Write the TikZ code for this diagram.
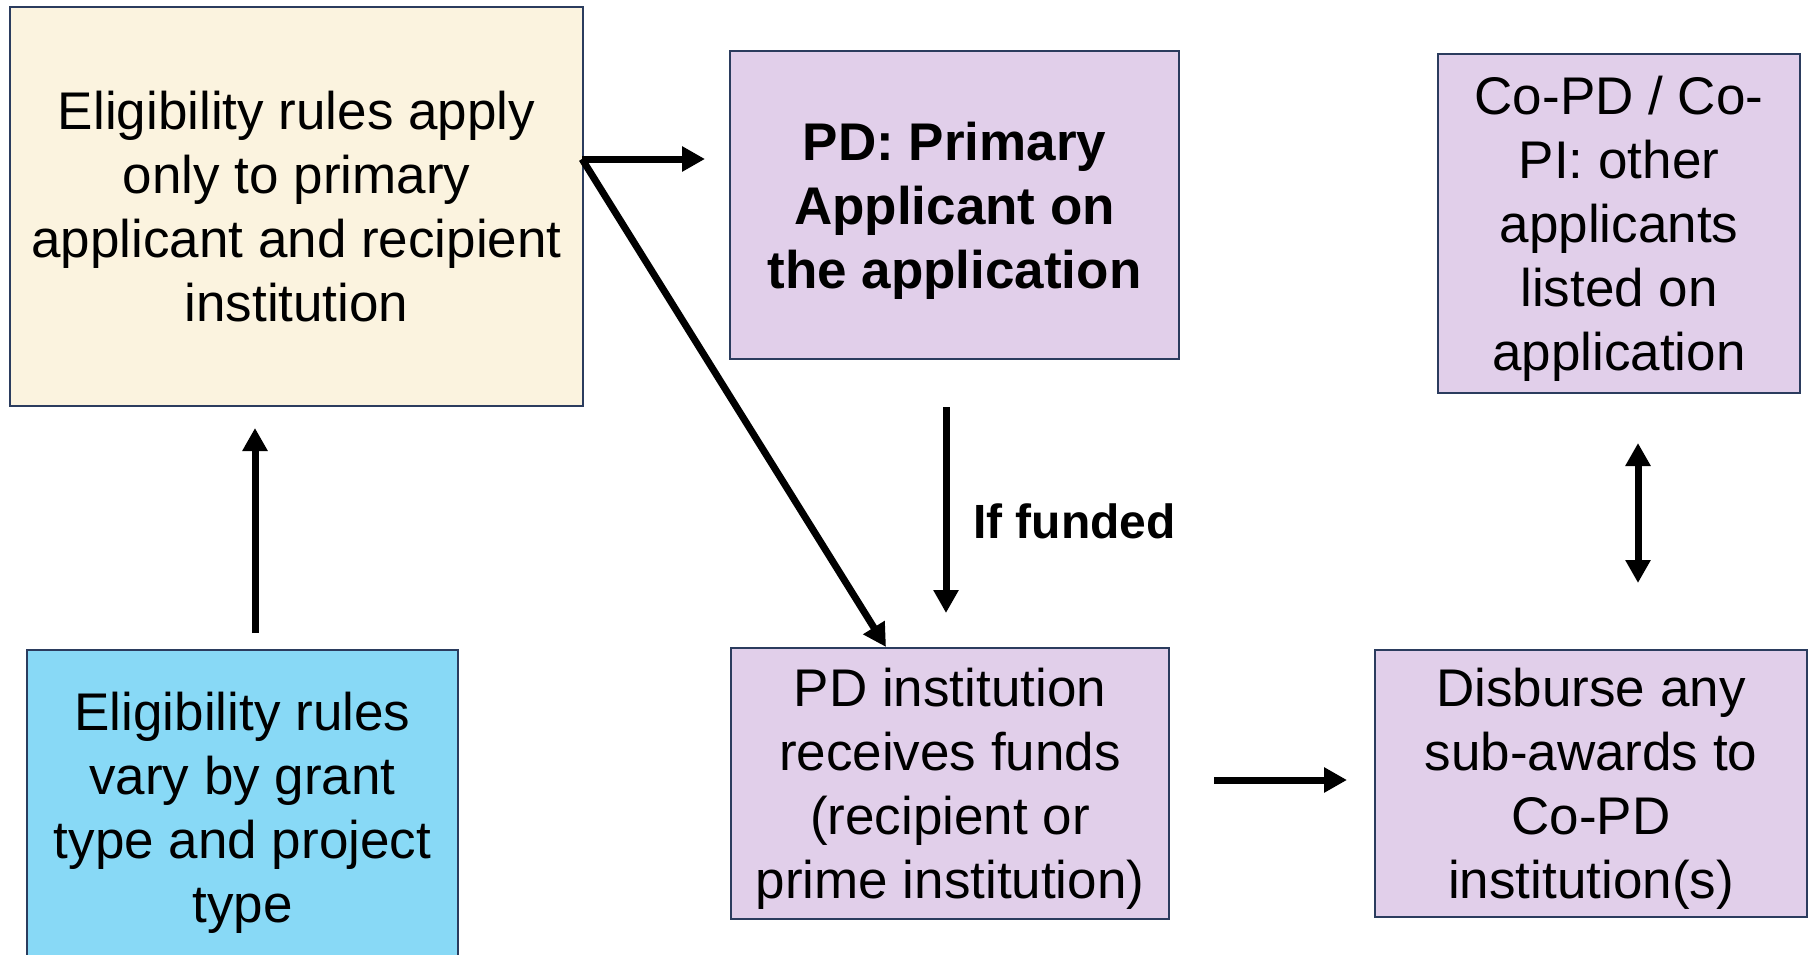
\documentclass[tikz,border=0pt]{standalone}
\usepackage{fontspec}
\setmainfont{Liberation Sans}
\usetikzlibrary{arrows.meta,calc}
\definecolor{boxline}{HTML}{2B3C5E}
\definecolor{yelfill}{HTML}{FBF3DF}
\definecolor{purfill}{HTML}{E1CFEA}
\definecolor{bluefill}{HTML}{88D9F6}
\tikzset{
  box/.style={draw=boxline, line width=2pt, inner sep=0pt, anchor=north west,
    align=center, text depth=0pt, font=\fontsize{53}{64}\selectfont},
  arr/.style={line width=7pt, -{Triangle[width=24pt,length=23pt]}},
  darr/.style={line width=7pt, {Triangle[width=24pt,length=23pt]}-{Triangle[width=24pt,length=23pt]}}
}
\begin{document}
\begin{tikzpicture}[x=1pt,y=-1pt]
\useasboundingbox (0,0) rectangle (1820,955);
\node[box, fill=yelfill, minimum width=573pt, minimum height=399pt] (A) at (9,6)
  {Eligibility rules apply\\only to primary\\applicant and recipient\\institution};
\node[box, fill=purfill, minimum width=449pt, minimum height=308pt, font=\fontsize{53}{64}\selectfont\bfseries] (B) at (729,50)
  {PD: Primary\\Applicant on\\the application};
\node[box, fill=purfill, minimum width=362pt, minimum height=339pt] (C) at (1437,53)
  {Co-PD / Co-\\PI: other\\applicants\\listed on\\application};
\node[box, fill=bluefill, minimum width=431pt, minimum height=314pt] (D) at (26,649)
  {Eligibility rules\\vary by grant\\type and project\\type};
\node[box, fill=purfill, minimum width=438pt, minimum height=271pt] (E) at (730,647)
  {PD institution\\receives funds\\(recipient or\\prime institution)};
\node[box, fill=purfill, minimum width=432pt, minimum height=267pt] (F) at (1374,649)
  {Disburse any\\sub-awards to\\Co-PD\\institution(s)};
\node[anchor=west, inner sep=0pt, font=\fontsize{48}{56}\selectfont\bfseries] (lbl) at (973,521) {If funded};
\coordinate (p1) at (582,159);
\coordinate (xBE) at (946,0);
\coordinate (xDA) at (255,0);
\coordinate (yEF) at (0,780);
\coordinate (xCF) at (1638,0);
\draw[arr, shorten >=24pt] (p1) -- (p1 -| B.west);
\draw[arr] (p1) -- ($(E.north west)+(156,0)$);
\draw[arr, shorten <=47pt, shorten >=34pt] (B.south -| xBE) -- (E.north -| xBE);
\draw[arr, shorten <=16pt, shorten >=21pt] (D.north -| xDA) -- (A.south -| xDA);
\draw[arr, shorten <=44pt, shorten >=27pt] (E.east |- yEF) -- (F.west |- yEF);
\draw[darr, shorten <=49pt, shorten >=66pt] (C.south -| xCF) -- (F.north -| xCF);
\end{tikzpicture}
\end{document}
